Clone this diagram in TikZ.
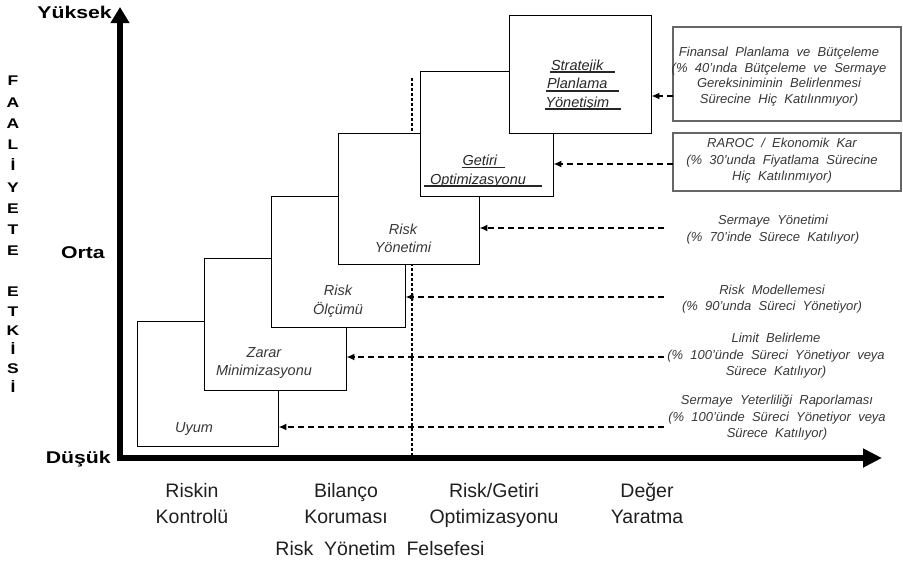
\documentclass[tikz,border=0pt]{standalone}
\usepackage{fontspec}
\setmainfont{Liberation Sans}
\newfontfamily\axisfont{Liberation Sans}[FakeStretch=1.25]
\newfontfamily\notefont{Liberation Sans}[WordSpace=2]
\usetikzlibrary{arrows.meta}
\newcommand\ulbox[3]{\leavevmode\rlap{\rule[-2.8pt]{#1}{1.8pt}}\makebox[#1][l]{\hspace{#2}#3}}
\begin{document}
\begin{tikzpicture}[x=1pt,y=-1pt,
  stage/.style={draw=black,line width=0.9pt,fill=white,inner sep=0pt},
  notebox/.style={draw=black!60,line width=1.2pt,fill=white,inner sep=0pt},
  stagetext/.style={font=\itshape\fontsize{14.5}{18.5}\selectfont,text=black!78,align=center,inner sep=0pt},
  ultext/.style={font=\itshape\fontsize{14.5}{18.5}\selectfont,text=black!85,align=center,inner sep=0pt},
  note/.style={font=\notefont\itshape\fontsize{13}{16.5}\selectfont,text=black!78,align=center,inner sep=0pt},
  axislabel/.style={font=\axisfont\bfseries\fontsize{17}{20}\selectfont,inner sep=0pt},
  vlet/.style={font=\axisfont\bfseries\fontsize{14}{21.25}\selectfont,align=center,inner sep=0pt},
  phil/.style={font=\fontsize{19.5}{26}\selectfont,text=black!88,align=center,inner sep=0pt,anchor=north},
  feed/.style={line width=1.8pt,dash pattern=on 6pt off 4pt,-{Latex[length=8pt,width=7pt]}},
  vdash/.style={line width=1.8pt,dash pattern=on 3pt off 2pt},
  axis/.style={line width=6.5pt,{Triangle[length=16pt,width=18pt]}-{Triangle[length=19pt,width=18pt]}}
]
\useasboundingbox (0,0) rectangle (903,565);

% vertical dotted guide
\coordinate (dtop) at (412,78);
\coordinate (dbot) at (412,455);
\draw[vdash] (dtop) -- (dbot);

% stage boxes
\node[stage,minimum width=141pt,minimum height=125pt] (uyum)   at (207.5,383.5) {};
\node[stage,minimum width=142pt,minimum height=132pt] (zarar)  at (275,324) {};
\node[stage,minimum width=134pt,minimum height=131pt] (olcum)  at (338,261.5) {};
\node[stage,minimum width=141pt,minimum height=131pt] (yonet)  at (408.5,198.5) {};
\node[stage,minimum width=133pt,minimum height=125pt] (getiri) at (486.5,133.5) {};
\node[stage,minimum width=142pt,minimum height=118pt] (strat)  at (580,74) {};

% axes
\coordinate (ytop) at (120,7);
\coordinate (orig) at (120,458);
\coordinate (xend) at (882,458);
\draw[axis] (ytop) -- (orig) -- (xend);

% note boxes
\node[notebox,minimum width=228pt,minimum height=94pt] (finbox) at (787,74) {};
\node[notebox,minimum width=228pt,minimum height=58pt] (rarocbox) at (787,162) {};

% stage texts
\node[stagetext] (tuyum) at (194,429) {Uyum};
\node[stagetext] (tzarar) at (264,363) {Zarar\\Minimizasyonu};
\node[stagetext] (tolcum) at (338,301) {Risk\\Ölçümü};
\node[stagetext] (tyonet) at (403,238.5) {Risk\\Yönetimi};
\node[ultext] (tgetiri) at (483,171) {\ulbox{43pt}{1pt}{Getiri}\\\ulbox{118pt}{6pt}{Optimizasyonu}};
\node[ultext] (tstrat) at (582.5,85) {\ulbox{65pt}{1pt}{Stratejik}\\\ulbox{73pt}{1pt}{Planlama}\\\ulbox{76pt}{1pt}{Yönetişim}};

% notes
\node[note,font=\notefont\itshape\fontsize{13}{15.7}\selectfont] (nfin) at (779,76.5) {Finansal Planlama ve Bütçeleme\\(\% 40’ında Bütçeleme ve Sermaye\\Gereksiniminin Belirlenmesi\\Sürecine Hiç Katılınmıyor)};
\node[note] (nraroc) at (782,161) {RAROC / Ekonomik Kar\\(\% 30’unda Fiyatlama Sürecine\\Hiç Katılınmıyor)};
\node[note] (nsy) at (773,229.5) {Sermaye Yönetimi\\(\% 70’inde Sürece Katılıyor)};
\node[note] (nrm) at (772,299) {Risk Modellemesi\\(\% 90’unda Süreci Yönetiyor)};
\node[note] (nlim) at (776,356) {Limit Belirleme\\(\% 100’ünde Süreci Yönetiyor veya\\Sürece Katılıyor)};
\node[note] (nsyr) at (777,418) {Sermaye Yeterliliği Raporlaması\\(\% 100’ünde Süreci Yönetiyor veya\\Sürece Katılıyor)};

% feedback arrows
\coordinate (a1) at (664,427);
\coordinate (a2) at (664,357);
\coordinate (a3) at (664,297);
\coordinate (a4) at (664,228);
\coordinate (a5) at (673,164);
\coordinate (a6) at (673,96);
\draw[feed] (a1) -- (a1 -| uyum.east);
\draw[feed] (a2) -- (a2 -| zarar.east);
\draw[feed] (a3) -- (a3 -| olcum.east);
\draw[feed] (a4) -- (a4 -| yonet.east);
\draw[feed] (a5) -- (a5 -| getiri.east);
\draw[feed] (a6) -- (a6 -| strat.east);

% axis labels
\node[axislabel,anchor=east] (yhigh) at (112,12) {Yüksek};
\node[axislabel,anchor=east] (ymid) at (105,253) {Orta};
\node[axislabel,anchor=east] (ylow) at (111,459) {Düşük};
\node[vlet] (v1) at (13,166) {F\\A\\A\\L\\İ\\Y\\E\\T\\E};
\node[vlet,font=\axisfont\bfseries\fontsize{14}{19.2}\selectfont] (v2) at (13,340) {E\\T\\K\\İ\\S\\İ};

% philosophy labels
\node[phil] (p1) at (192,479) {\strut Riskin\\\strut Kontrolü};
\node[phil] (p2) at (346,479) {\strut Bilanço\\\strut Koruması};
\node[phil] (p3) at (494,479) {\strut Risk/Getiri\\\strut Optimizasyonu};
\node[phil] (p4) at (647,479) {\strut Değer\\\strut Yaratma};
\node[phil] (p5) at (380,537) {\strut Risk~ Yönetim~ Felsefesi};
\end{tikzpicture}
\end{document}
